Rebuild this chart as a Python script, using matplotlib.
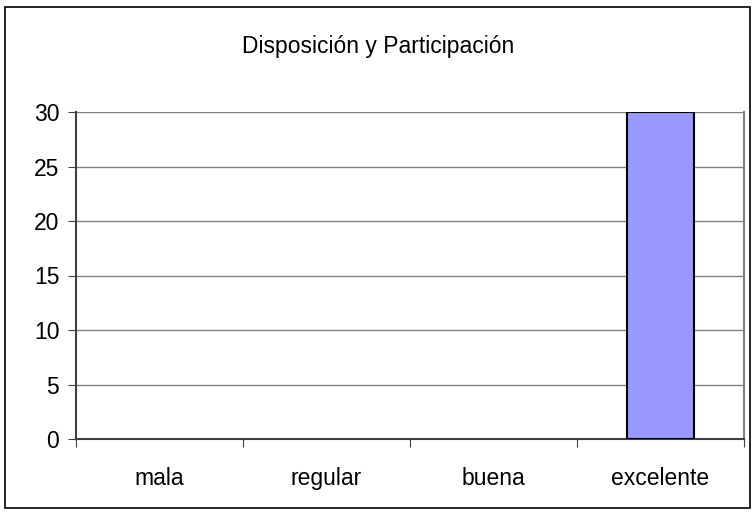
import matplotlib
matplotlib.use("Agg")
import matplotlib.pyplot as plt
from matplotlib.patches import Rectangle

categories = ['mala', 'regular', 'buena', 'excelente']
values = [0, 0, 0, 30]
y_ticks = [0, 5, 10, 15, 20, 25, 30]
title = 'Disposición y Participación'

plt.rcParams['font.family'] = ['Liberation Sans', 'DejaVu Sans']

fig = plt.figure(figsize=(7.56, 5.12), dpi=100)
W, H = 756, 512
ax = fig.add_axes([76 / W, 1 - 439 / H, (744 - 76) / W, (439 - 112) / H])

# borde exterior del grafico
fig.patches.append(Rectangle((5 / W, 4 / H), (750 - 5) / W, (508 - 7) / H,
                             transform=fig.transFigure, fill=False,
                             edgecolor='black', linewidth=1.2))

x = list(range(len(categories)))
edges = ['black' if v > 0 else 'none' for v in values]
ax.bar(x, values, width=0.4, color='#9999FF', edgecolor=edges, linewidth=1.5, zorder=3)

ax.set_xlim(-0.5, len(categories) - 0.5)
ax.set_ylim(0, 30)
ax.set_yticks(y_ticks)
ax.set_yticklabels([str(v) for v in y_ticks], fontsize=16.5)
ax.yaxis.grid(True, color='#808080', linewidth=1, zorder=0)

ax.set_xticks([i + 0.5 for i in range(-1, len(categories))])
ax.set_xticklabels([])
ax.set_xticks(x, minor=True)
ax.set_xticklabels(categories, minor=True, fontsize=16.5)
ax.tick_params(axis='x', which='minor', length=0, pad=20)
ax.tick_params(axis='x', which='major', length=6, direction='out', color='#404040')
ax.tick_params(axis='y', length=6, direction='out', color='#404040', pad=6)

for s in ['left', 'bottom']:
    ax.spines[s].set_color('#404040')
    ax.spines[s].set_linewidth(1.5)
ax.spines['top'].set_visible(False)
ax.spines['right'].set_color('#808080')
ax.spines['right'].set_linewidth(1.5)

fig.text(0.5, 1 - 46 / H, title, ha='center', va='center', fontsize=16.5)

fig.savefig('out.png', dpi=100)
